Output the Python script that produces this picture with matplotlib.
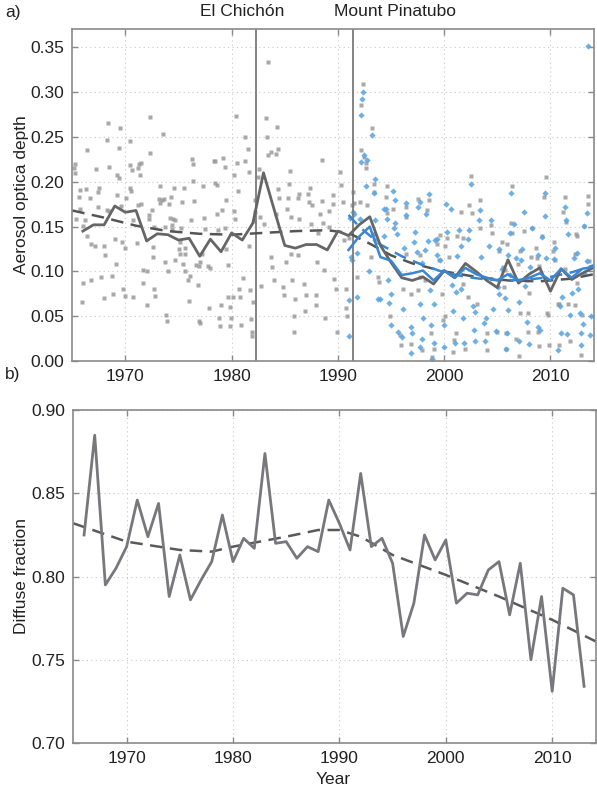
import matplotlib
matplotlib.use("Agg")
import matplotlib.pyplot as plt
from matplotlib.ticker import FormatStrFormatter

plt.rcParams['font.family'] = ['Liberation Sans', 'DejaVu Sans']

# ---- panel a: aerosol optical depth ----
# grey squares (station record), (year, aod)
grey_obs = [
    (1972.3, .272), (1968.4, .265), (1969.5, .260), (1973.5, .253), (1968.3, .247), (1970.4, .246),
    (1966.4, .235), (1969.4, .238), (1972.3, .232), (1976.3, .225), (1976.4, .220), (1965.3, .220),
    (1965.2, .215), (1965.3, .210), (1967.2, .214), (1968.5, .217), (1970.4, .219), (1970.6, .213),
    (1971.2, .215), (1971.3, .220), (1971.5, .221), (1971.4, .207), (1969.2, .207), (1969.4, .204),
    (1976.4, .201), (1965.7, .191), (1966.3, .192), (1967.5, .193), (1967.4, .189), (1965.6, .183),
    (1966.7, .182), (1969.2, .185), (1970.4, .193), (1970.5, .190), (1973.3, .195), (1974.6, .193),
    (1975.5, .193), (1977.3, .195), (1970.1, .182), (1973.2, .181), (1973.4, .180), (1973.6, .181),
    (1973.3, .176), (1974.3, .183), (1974.1, .175), (1975.3, .178), (1976.5, .179), (1967.4, .172),
    (1965.7, .170), (1968.5, .167), (1968.3, .169), (1969.6, .173), (1971.2, .174), (1971.5, .175),
    (1972.5, .168), (1972.2, .163), (1972.2, .158), (1965.4, .158), (1966.2, .157), (1970.7, .157),
    (1974.2, .160), (1974.5, .158), (1974.7, .157), (1976.2, .157), (1977.4, .160), (1973.7, .150),
    (1974.4, .152), (1974.4, .147), (1975.2, .149), (1972.7, .150), (1966.0, .151), (1966.4, .139),
    (1966.8, .131), (1967.1, .128), (1968.0, .128), (1969.0, .136), (1969.7, .133), (1970.0, .126),
    (1971.1, .132), (1975.1, .133), (1975.0, .125), (1975.6, .126), (1975.6, .120), (1975.1, .120),
    (1974.7, .113), (1968.1, .118), (1972.6, .127), (1972.6, .116), (1969.1, .108), (1973.7, .110),
    (1975.4, .108), (1976.6, .107), (1977.0, .111), (1976.9, .106), (1971.7, .102), (1972.0, .100),
    (1974.0, .101), (1975.6, .101), (1977.2, .119), (1976.1, .095), (1975.9, .091), (1966.0, .087),
    (1966.8, .090), (1967.7, .094), (1968.7, .095), (1971.7, .087), (1972.7, .080), (1976.8, .085),
    (1969.8, .081), (1968.8, .075), (1968.0, .070), (1970.0, .073), (1970.7, .071), (1972.8, .073),
    (1965.9, .066), (1972.0, .063), (1976.0, .067), (1973.8, .052), (1973.9, .045), (1976.9, .045),
    (1977.0, .042),
    (1983.4, .334), (1980.4, .273), (1983.2, .271), (1984.3, .261), (1981.3, .250), (1983.3, .250),
    (1981.5, .236), (1984.4, .237), (1983.4, .230), (1983.7, .233), (1984.2, .231), (1978.3, .223),
    (1978.4, .223), (1979.2, .226), (1979.4, .216), (1980.5, .221), (1981.3, .223), (1981.6, .211),
    (1982.6, .214), (1988.5, .224), (1990.2, .211), (1980.2, .208), (1982.5, .205), (1985.5, .212),
    (1978.4, .199), (1978.6, .196), (1980.6, .190), (1985.4, .198), (1987.4, .193), (1990.3, .196),
    (1984.4, .192), (1979.5, .180), (1982.2, .180), (1984.5, .182), (1985.3, .182), (1986.2, .182),
    (1986.3, .186), (1987.2, .186), (1987.3, .177), (1987.6, .174), (1988.5, .179), (1989.5, .185),
    (1990.5, .177), (1989.5, .175), (1978.6, .164), (1979.1, .168), (1980.2, .167), (1980.3, .158),
    (1982.2, .166), (1982.7, .161), (1984.2, .164), (1985.2, .170), (1985.6, .161), (1986.3, .158),
    (1988.3, .164), (1988.6, .154), (1989.2, .167), (1982.1, .156), (1983.0, .153), (1987.5, .153),
    (1977.5, .147), (1978.7, .146), (1979.4, .149), (1988.1, .143), (1989.2, .150), (1981.6, .128),
    (1979.5, .125), (1977.8, .106), (1978.0, .104), (1979.7, .107), (1983.7, .116), (1983.8, .105),
    (1985.1, .110), (1985.6, .120), (1986.2, .118), (1988.0, .111), (1988.7, .102), (1989.6, .092),
    (1981.1, .093), (1982.8, .084), (1984.0, .090), (1984.8, .083), (1985.7, .090), (1980.7, .081),
    (1981.7, .079), (1984.9, .074), (1986.8, .086), (1987.0, .074), (1987.9, .074), (1989.8, .080),
    (1979.7, .071), (1980.1, .072), (1980.8, .071), (1979.0, .063), (1977.9, .059), (1979.8, .060),
    (1986.0, .069), (1987.9, .063), (1986.9, .056), (1985.9, .050), (1988.8, .048), (1978.8, .048),
    (1979.9, .048), (1978.9, .039), (1979.8, .039), (1980.9, .040), (1981.8, .047), (1982.0, .066),
    (1981.9, .033), (1981.9, .028), (1985.9, .032), (1989.9, .033),
    (1992.4, .309), (1992.2, .286), (1992.2, .235), (1992.5, .228), (1992.6, .221), (1992.6, .215),
    (1993.2, .260), (1991.4, .189), (1991.3, .174), (1991.5, .176), (1992.1, .178), (1992.7, .174),
    (1993.4, .197), (1993.4, .189), (1994.6, .195), (1994.5, .183), (1994.6, .165), (1995.2, .170),
    (1996.4, .172), (1996.4, .161), (1997.5, .181), (1990.6, .135), (1991.0, .137), (1993.1, .116),
    (1993.8, .094), (1993.9, .088), (1991.8, .094), (1990.8, .080), (1990.8, .059), (1990.9, .050),
    (1996.1, .081), (1996.9, .075), (1997.5, .079), (1994.9, .050), (1995.8, .029), (1995.9, .018),
    (1996.9, .019), (1996.4, .120),
    (2002.5, .206), (2003.35, .180), (2002.35, .174), (1998.6, .180), (1998.4, .169), (2001.6, .166),
    (2002.6, .165), (2003.35, .148), (2004.4, .152), (2004.5, .143), (1999.65, .141), (2000.3, .137),
    (2001.2, .139), (1999.3, .131), (2000.1, .128), (2001.8, .137), (2005.4, .133), (2005.2, .123),
    (1997.7, .118), (2000.5, .116), (1999.5, .113), (2005.5, .105), (1997.7, .094), (1998.2, .090),
    (2001.8, .086), (1999.75, .075), (2005.6, .083), (2002.25, .072), (2003.1, .064), (2000.1, .050),
    (1999.9, .046), (1998.8, .031), (2001.1, .031), (2004.0, .031), (2005.0, .032), (1997.95, .012),
    (1998.9, .005), (2000.85, .010), (2002.0, .013), (2004.0, .012), (2005.8, .014), (2000.9, .024),
    (1999.0, .013),
    (2009.6, .205), (2009.4, .183), (2006.4, .195), (2011.4, .183), (2013.5, .184), (2013.55, .175),
    (2011.2, .166), (2011.5, .155), (2006.3, .154), (2006.4, .143), (2007.5, .145), (2008.3, .149),
    (2009.2, .139), (2010.3, .133), (2010.2, .123), (2012.4, .142), (2012.5, .139), (2013.2, .151),
    (2005.9, .131), (2008.6, .126), (2012.35, .120), (2007.1, .123), (2008.7, .115), (2008.2, .116),
    (2006.9, .108), (2010.4, .113), (2008.9, .106), (2011.35, .103), (2013.6, .112), (2005.7, .102),
    (2012.5, .087), (2007.75, .090), (2008.0, .076), (2010.7, .064), (2010.8, .064), (2011.65, .064),
    (2012.3, .063), (2013.0, .051), (2007.1, .054), (2007.85, .054), (2009.7, .054), (2009.8, .052),
    (2005.85, .031), (2006.75, .025), (2007.0, .006), (2007.9, .033), (2008.9, .017), (2009.9, .018),
    (2010.8, .018), (2011.8, .022), (2012.9, .007), (2008.8, .033),
]

# blue diamonds (second record from 1991), (year, aod)
blue_obs = [
    (1992.4, .300), (1992.3, .292), (1992.2, .274), (1993.2, .252), (1992.2, .222), (1992.5, .230),
    (1992.7, .224), (1992.6, .195), (1993.5, .203), (1993.4, .188), (1991.4, .166), (1991.5, .164),
    (1991.1, .160), (1992.1, .158), (1993.5, .157), (1994.3, .170), (1994.5, .170), (1995.2, .190),
    (1995.4, .180), (1995.4, .154), (1995.3, .148), (1995.6, .142), (1996.4, .176), (1996.4, .163),
    (1997.5, .172), (1997.3, .144), (1994.6, .159), (1994.3, .139), (1991.8, .121), (1991.2, .116),
    (1991.3, .113), (1992.9, .101), (1993.8, .069), (1994.0, .069), (1991.8, .072), (1991.0, .068),
    (1991.0, .028), (1994.7, .090), (1995.0, .075), (1994.8, .065), (1995.0, .040), (1995.7, .032),
    (1996.0, .027), (1996.1, .058), (1996.9, .038), (1997.0, .031), (1996.9, .009), (1996.2, .126),
    (1997.2, .133), (1997.4, .122), (1993.5, .135), (1993.4, .142),
    (1998.55, .186), (2002.5, .198), (2000.2, .175), (2000.6, .170), (2003.3, .157), (2003.35, .168),
    (2004.4, .157), (1998.3, .164), (1997.7, .178), (2000.3, .144), (2001.4, .146), (2002.35, .146),
    (1999.1, .135), (1998.5, .134), (1999.3, .136), (2001.6, .128), (2002.25, .136), (2004.2, .128),
    (2005.2, .125), (1998.2, .124), (1999.3, .118), (2001.2, .117), (2003.5, .116), (1999.6, .113),
    (1997.9, .109), (2005.4, .103), (1998.65, .079), (2000.7, .085), (2001.15, .077), (2001.6, .080),
    (2002.7, .061), (2005.2, .075), (2005.1, .083), (1999.0, .064), (1997.7, .064), (2002.9, .055),
    (2004.6, .058), (1998.0, .048), (2000.8, .056), (2001.8, .048), (2003.9, .048), (1998.8, .040),
    (1999.95, .040), (2002.8, .035), (2003.75, .042), (2004.9, .034), (1997.9, .025), (1999.0, .020),
    (1999.95, .016), (2001.9, .020), (2002.9, .023), (2003.8, .023), (2001.0, .020), (1997.7, .016),
    (1998.9, .002),
    (2013.5, .351), (2009.5, .187), (2006.3, .188), (2011.35, .172), (2011.45, .157), (2013.4, .165),
    (2009.5, .162), (2007.5, .166), (2006.6, .153), (2008.3, .148), (2006.2, .143), (2013.2, .151),
    (2011.65, .142), (2007.3, .125), (2009.2, .138), (2010.4, .126), (2010.35, .114), (2012.5, .121),
    (2012.2, .115), (2009.6, .115), (2006.8, .115), (2007.2, .113), (2008.85, .118), (2006.0, .118),
    (2013.4, .112), (2008.1, .105), (2013.2, .098), (2006.2, .096), (2007.6, .084), (2012.6, .080),
    (2012.0, .076), (2011.1, .072), (2007.0, .066), (2005.7, .070), (2010.9, .061), (2006.0, .057),
    (2011.8, .052), (2012.75, .054), (2013.8, .050), (2007.75, .044), (2008.8, .038), (2009.0, .035),
    (2013.1, .041), (2011.0, .031), (2012.9, .031), (2013.7, .029), (2005.95, .031), (2005.85, .014),
    (2007.0, .023), (2008.0, .019), (2010.7, .012), (2011.6, .030), (2012.9, .018),
]

# annual means
grey_years = list(range(1966, 2015))
grey_annual = [0.145, 0.152, 0.152, 0.173, 0.166, 0.168, 0.134, 0.142, 0.141, 0.135,
               0.137, 0.117, 0.136, 0.122, 0.143, 0.135, 0.154, 0.210, 0.169, 0.129,
               0.126, 0.130, 0.130, 0.124, 0.145, 0.140, 0.152, 0.161, 0.129, 0.110,
               0.093, 0.090, 0.094, 0.086, 0.101, 0.093, 0.109, 0.100, 0.090, 0.082,
               0.113, 0.087, 0.097, 0.104, 0.078, 0.103, 0.091, 0.098, 0.104]
blue_years = list(range(1991, 2015))
blue_annual = [0.124, 0.139, 0.150, 0.116, 0.112, 0.096, 0.098, 0.101, 0.090, 0.101,
               0.093, 0.104, 0.097, 0.093, 0.090, 0.097, 0.090, 0.093, 0.098, 0.090,
               0.103, 0.093, 0.103, 0.105]

# smooth trends
grey_trend_t = [1965, 1968, 1971, 1974, 1977, 1980, 1983, 1986, 1989, 1991, 1993, 1995,
                1997, 2000, 2003, 2006, 2009, 2012, 2014.1]
grey_trend = [0.168, 0.160, 0.151, 0.145, 0.142, 0.141, 0.143, 0.145, 0.146, 0.143, 0.131,
              0.118, 0.109, 0.100, 0.094, 0.090, 0.089, 0.092, 0.097]
blue_trend_t = [1991, 1992, 1993, 1994, 1996, 1998, 2000, 2002, 2004, 2006, 2008, 2010, 2012, 2014.1]
blue_trend = [0.163, 0.150, 0.140, 0.130, 0.117, 0.107, 0.099, 0.094, 0.091, 0.090, 0.091,
              0.094, 0.099, 0.107]

eruptions = [1982.3, 1991.45]

# ---- panel b: diffuse fraction ----
df_years = list(range(1966, 2014))
diffuse = [0.825, 0.885, 0.795, 0.805, 0.818, 0.846, 0.824, 0.844, 0.788, 0.813,
           0.786, 0.798, 0.809, 0.837, 0.809, 0.823, 0.817, 0.874, 0.820, 0.821,
           0.811, 0.818, 0.815, 0.846, 0.832, 0.816, 0.862, 0.818, 0.823, 0.808,
           0.764, 0.784, 0.825, 0.810, 0.822, 0.784, 0.790, 0.789, 0.804, 0.809,
           0.777, 0.808, 0.750, 0.788, 0.731, 0.793, 0.789, 0.734]
df_trend_t = [1965, 1970, 1975, 1978, 1980, 1985, 1988, 1990, 1992, 1995, 2000, 2005, 2010, 2014.1]
df_trend = [0.832, 0.821, 0.816, 0.815, 0.818, 0.824, 0.828, 0.828, 0.824, 0.813, 0.801,
            0.788, 0.774, 0.761]

frame = '#8a8a8a'
txt = '#222222'


def style(ax):
    for s in ax.spines.values():
        s.set_color(frame)
        s.set_linewidth(1.2)
    ax.tick_params(direction='in', top=True, right=True, length=4, width=1,
                   color=frame, labelcolor=txt, labelsize=12.5, pad=6)
    ax.grid(True, ls=(0, (1, 3)), color='#c8c8c8', lw=0.8)
    ax.set_axisbelow(True)
    ax.set_xlim(1965, 2014.1)
    ax.set_xticks([1970, 1980, 1990, 2000, 2010])


fig = plt.figure(figsize=(5.97, 7.92), dpi=100)

ax1 = fig.add_axes([0.121, 0.544, 0.874, 0.419])
style(ax1)
gx, gy = zip(*grey_obs)
bx, by = zip(*blue_obs)
ax1.plot(gx, gy, ls='none', marker='s', ms=3.3, mec='none', mfc='#9a9a9a', alpha=0.85)
ax1.plot(bx, by, ls='none', marker='D', ms=3.2, mec='none', mfc='#5ea6e2', alpha=0.9)
for e in eruptions:
    ax1.axvline(e, color='#7a7a7a', lw=1.3)
ax1.plot(grey_trend_t, grey_trend, color='#555555', lw=1.8, dashes=(5, 3))
ax1.plot(blue_trend_t, blue_trend, color='#3a86d2', lw=1.8, dashes=(5, 3))
ax1.plot(grey_years, grey_annual, color='#666666', lw=2.0)
ax1.plot(blue_years, blue_annual, color='#3a86d2', lw=1.8)
ax1.set_ylim(0, 0.37)
ax1.set_yticks([0, 0.05, 0.10, 0.15, 0.20, 0.25, 0.30, 0.35])
ax1.yaxis.set_major_formatter(FormatStrFormatter('%.2f'))

ax2 = fig.add_axes([0.123, 0.062, 0.875, 0.420])
style(ax2)
ax2.plot(df_trend_t, df_trend, color='#5a5a5a', lw=1.8, dashes=(5, 3))
ax2.plot(df_years, diffuse, color='#77777c', lw=2.0)
ax2.set_ylim(0.70, 0.90)
ax2.set_yticks([0.70, 0.75, 0.80, 0.85, 0.90])
ax2.yaxis.set_major_formatter(FormatStrFormatter('%.2f'))

fig.text(5 / 597, 1 - 12 / 792, 'a)', fontsize=12.5, color=txt, va='center')
fig.text(5 / 597, 1 - 374 / 792, 'b)', fontsize=12.5, color=txt, va='center')
fig.text(242 / 597, 1 - 12 / 792, 'El Chichón', fontsize=12.5, color=txt, ha='center', va='center')
fig.text(395 / 597, 1 - 12 / 792, 'Mount Pinatubo', fontsize=12.5, color=txt, ha='center', va='center')
fig.text(22 / 597, 1 - 195 / 792, 'Aerosol optica depth', fontsize=12.5, color=txt,
         rotation=90, ha='center', va='center')
fig.text(22 / 597, 1 - 576 / 792, 'Diffuse fraction', fontsize=12.5, color=txt,
         rotation=90, ha='center', va='center')
fig.text(333 / 597, 1 - 779 / 792, 'Year', fontsize=12.5, color=txt, ha='center', va='center')

fig.savefig('out.png', dpi=100)
